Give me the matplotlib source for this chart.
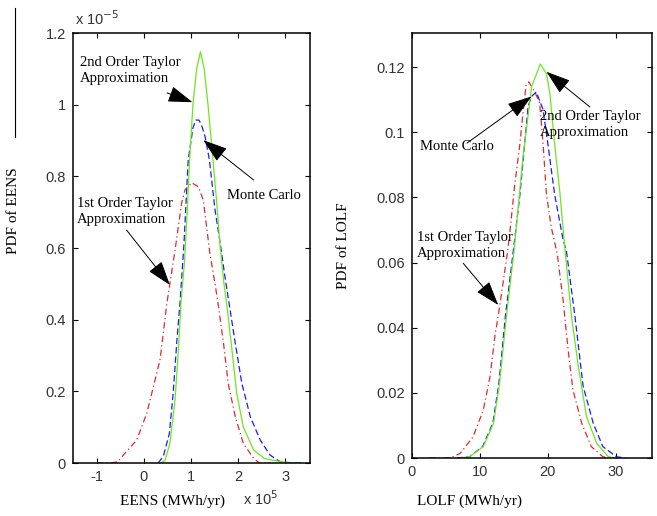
import matplotlib
matplotlib.use("Agg")
import matplotlib.pyplot as plt
from matplotlib.ticker import FuncFormatter
from matplotlib.lines import Line2D

# EENS densities (x in 1e5 MWh/yr, pdf in 1e-5)
eens_mc_x = [0.3, 0.41, 0.54, 0.62, 0.70, 0.77, 0.85, 0.91, 0.94, 1.04, 1.10, 1.17, 1.23, 1.30,
             1.39, 1.51, 1.62, 1.72, 1.83, 1.94, 2.08, 2.26, 2.47, 2.68, 2.89, 3.1, 3.4]
eens_mc_y = [0.0, 0.018, 0.083, 0.195, 0.343, 0.455, 0.613, 0.77, 0.846, 0.935, 0.957, 0.957, 0.94, 0.91,
             0.846, 0.706, 0.613, 0.52, 0.427, 0.334, 0.222, 0.129, 0.064, 0.022, 0.004, 0.001, 0.0]
eens_t1_x = [-1.0, -0.7, -0.55, -0.44, -0.155, 0.06, 0.20, 0.34, 0.41, 0.48, 0.55, 0.66, 0.73, 0.80, 0.87,
             1.015, 1.155, 1.26, 1.33, 1.40, 1.51, 1.58, 1.69, 1.79, 1.94, 2.11, 2.33, 2.45, 2.7]
eens_t1_y = [0.0, 0.0, 0.004, 0.022, 0.064, 0.139, 0.213, 0.287, 0.362, 0.44, 0.50, 0.594, 0.66, 0.725, 0.762,
             0.782, 0.771, 0.734, 0.66, 0.585, 0.50, 0.44, 0.334, 0.222, 0.129, 0.055, 0.013, 0.0, 0.0]
eens_t2_x = [0.36, 0.45, 0.55, 0.66, 0.73, 0.79, 0.86, 0.92, 0.97, 1.04, 1.12, 1.2, 1.28, 1.36, 1.47,
             1.55, 1.62, 1.70, 1.78, 1.87, 1.97, 2.11, 2.33, 2.57, 2.82, 3.1, 3.3]
eens_t2_y = [0.0, 0.008, 0.055, 0.176, 0.315, 0.455, 0.56, 0.706, 0.846, 1.0, 1.1, 1.148, 1.1, 1.0, 0.84,
             0.72, 0.6, 0.5, 0.42, 0.315, 0.195, 0.101, 0.036, 0.012, 0.006, 0.0, 0.0]

# LOLF densities
lolf_mc_x = [6.6, 8.5, 10.4, 11.9, 12.8, 13.75, 15.0, 15.9, 16.6, 17.1, 17.6, 18.3, 19.3, 20.0, 21.0,
             22.25, 22.75, 24.0, 25.2, 26.7, 28.1, 30.1, 31.4]
lolf_mc_y = [0.0, 0.0004, 0.0035, 0.0106, 0.0229, 0.0434, 0.065, 0.081, 0.0966, 0.108, 0.111, 0.1124, 0.107,
             0.0966, 0.081, 0.067, 0.0634, 0.0434, 0.022, 0.0106, 0.0035, 0.0004, 0.0]
lolf_t1_x = [2.6, 5.6, 7.1, 9.0, 10.5, 11.5, 12.2, 12.9, 14.05, 14.5, 15.1, 15.9, 16.4, 16.8, 17.2, 18.1,
             18.8, 19.3, 19.8, 20.5, 21.4, 22.25, 23.0, 23.7, 25.0, 26.4, 28.1, 29.0]
lolf_t1_y = [0.0, 0.0, 0.0014, 0.0065, 0.0147, 0.025, 0.0372, 0.0464, 0.063, 0.071, 0.0833, 0.0966, 0.107,
             0.1145, 0.1155, 0.1124, 0.109, 0.0966, 0.081, 0.071, 0.0625, 0.0485, 0.033, 0.0209, 0.0106,
             0.0035, 0.0004, 0.0]
lolf_t2_x = [7.0, 8.5, 10.5, 12.0, 12.9, 13.9, 15.0, 15.6, 16.3, 16.9, 17.6, 18.9, 19.8, 20.3, 21.0, 21.8,
             22.55, 23.5, 24.5, 25.7, 27.2, 28.9, 30.0]
lolf_t2_y = [0.0, 0.0004, 0.0035, 0.0106, 0.0229, 0.0434, 0.063, 0.076, 0.0915, 0.1017, 0.114, 0.121, 0.118,
             0.112, 0.0966, 0.081, 0.0634, 0.0434, 0.028, 0.0127, 0.0045, 0.0004, 0.0]

eens_xticks = [-1, 0, 1, 2, 3]
eens_yticks = [0, 0.2, 0.4, 0.6, 0.8, 1.0, 1.2]
lolf_xticks = [0, 10, 20, 30]
lolf_yticks = [0, 0.02, 0.04, 0.06, 0.08, 0.1, 0.12]

GREEN = "#6ee61e"
BLUE = "#1a1aff"
RED = "#e2282a"
SERIF = "Liberation Serif"
SANS = "Liberation Sans"

plt.rcParams["font.family"] = SANS

fig = plt.figure(figsize=(6.57, 5.16), dpi=100)
ax1 = fig.add_axes([0.111, 0.1027, 0.361, 0.8333])
ax2 = fig.add_axes([0.627, 0.1124, 0.365, 0.8236])


def style(ax):
    ax.tick_params(direction="in", length=3.5, width=0.8, top=True, right=True,
                   labelsize=10.5, labelcolor="#333333", pad=5)
    for s in ax.spines.values():
        s.set_linewidth(1.1)
    ax.yaxis.set_major_formatter(FuncFormatter(lambda v, p: "%g" % v))
    ax.xaxis.set_major_formatter(FuncFormatter(lambda v, p: "%g" % v))


def draw(ax, mc, t1, t2):
    ax.plot(*t1, color=RED, lw=0.9, dashes=[5, 2.5, 1, 2.5])
    ax.plot(*mc, color=BLUE, lw=0.9, dashes=[5, 2.5])
    ax.plot(*t2, color=GREEN, lw=0.9)


def note(ax, label, txt_xy, tail, head):
    ax.text(*txt_xy, label, family=SERIF, fontsize=10.5, ha="left", va="top", linespacing=1.3)
    ax.annotate("", xy=head, xytext=tail,
                arrowprops=dict(arrowstyle="-|>,head_length=0.9,head_width=0.3", color="k",
                                lw=0.7, mutation_scale=17, shrinkA=0, shrinkB=0))


# EENS panel
draw(ax1, (eens_mc_x, eens_mc_y), (eens_t1_x, eens_t1_y), (eens_t2_x, eens_t2_y))
ax1.set_xlim(-1.51, 3.53)
ax1.set_ylim(0, 1.2)
ax1.set_xticks(eens_xticks)
ax1.set_yticks(eens_yticks)
style(ax1)
ax1.set_xlabel("EENS (MWh/yr)", family=SERIF, fontsize=11)
ax1.xaxis.set_label_coords(0.418, -0.074)
ax1.set_ylabel("PDF of EENS", family=SERIF, fontsize=11)
ax1.yaxis.set_label_coords(-0.224, 0.586)
ax1.text(0.008, 1.012, "x 10$^{-5}$", transform=ax1.transAxes, fontsize=10.5, color="#333333",
         ha="left", va="bottom")
ax1.text(0.717, -0.098, "x 10$^{5}$", transform=ax1.transAxes, fontsize=10.5, color="#333333",
         ha="left", va="baseline")
note(ax1, "2nd Order Taylor\nApproximation", (-1.36, 1.135), (0.49, 1.033), (1.03, 1.007))
note(ax1, "Monte Carlo", (1.77, 0.765), (2.33, 0.79), (1.26, 0.901))
note(ax1, "1st Order Taylor\nApproximation", (-1.43, 0.742), (-0.37, 0.65), (0.55, 0.497))

# LOLF panel
draw(ax2, (lolf_mc_x, lolf_mc_y), (lolf_t1_x, lolf_t1_y), (lolf_t2_x, lolf_t2_y))
ax2.set_xlim(0, 35.3)
ax2.set_ylim(0, 0.1305)
ax2.set_xticks(lolf_xticks)
ax2.set_yticks(lolf_yticks)
style(ax2)
ax2.set_xlabel("LOLF (MWh/yr)", family=SERIF, fontsize=11)
ax2.xaxis.set_label_coords(0.242, -0.087)
ax2.set_ylabel("PDF of LOLF", family=SERIF, fontsize=11)
ax2.yaxis.set_label_coords(-0.258, 0.5)
note(ax2, "Monte Carlo", (1.2, 0.0978), (8.1, 0.0967), (17.6, 0.111))
note(ax2, "2nd Order Taylor\nApproximation", (18.8, 0.107), (26.2, 0.1078), (19.8, 0.1186))
note(ax2, "1st Order Taylor\nApproximation", (0.7, 0.0696), (7.55, 0.0598), (12.7, 0.047))

# thin rule along the left margin
fig.add_artist(Line2D([0.0228, 0.0228], [0.734, 0.984], transform=fig.transFigure, color="k", lw=0.8))

fig.savefig("out.png", dpi=100)
